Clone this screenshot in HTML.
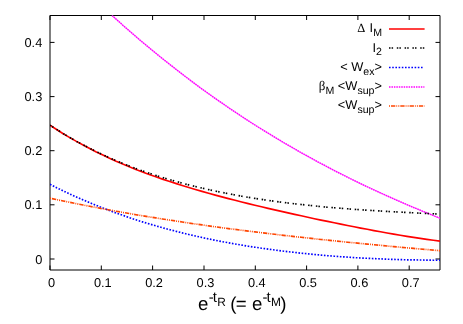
<!DOCTYPE html><html><head><meta charset="utf-8"><style>html,body{margin:0;padding:0;background:#fff}svg{display:block;will-change:transform;opacity:0.999}text{font-family:"Liberation Sans",sans-serif;fill:#000;text-rendering:geometricPrecision}</style></head><body>
<svg width="463" height="324" viewBox="0 0 463 324">
<rect width="463" height="324" fill="#fff"/>
<g stroke="#000" stroke-width="1" fill="none">
<path d="M50,15.5 H440 V270 H50 Z"/>
<path d="M50.0,270 v-4.5 M50.0,15.5 v4.5"/>
<path d="M101.3,270 v-4.5 M101.3,15.5 v4.5"/>
<path d="M152.6,270 v-4.5 M152.6,15.5 v4.5"/>
<path d="M204.0,270 v-4.5 M204.0,15.5 v4.5"/>
<path d="M255.3,270 v-4.5 M255.3,15.5 v4.5"/>
<path d="M306.6,270 v-4.5 M306.6,15.5 v4.5"/>
<path d="M357.9,270 v-4.5 M357.9,15.5 v4.5"/>
<path d="M409.2,270 v-4.5 M409.2,15.5 v4.5"/>
<path d="M50,259.0 h4.5 M440,259.0 h-4.5"/>
<path d="M50,204.8 h4.5 M440,204.8 h-4.5"/>
<path d="M50,150.7 h4.5 M440,150.7 h-4.5"/>
<path d="M50,96.6 h4.5 M440,96.6 h-4.5"/>
<path d="M50,42.4 h4.5 M440,42.4 h-4.5"/>
</g>
<text x="51.5" y="287.2" font-size="12.8" text-anchor="middle">0</text>
<text x="102.8" y="287.2" font-size="12.8" text-anchor="middle">0.1</text>
<text x="154.1" y="287.2" font-size="12.8" text-anchor="middle">0.2</text>
<text x="205.5" y="287.2" font-size="12.8" text-anchor="middle">0.3</text>
<text x="256.8" y="287.2" font-size="12.8" text-anchor="middle">0.4</text>
<text x="308.1" y="287.2" font-size="12.8" text-anchor="middle">0.5</text>
<text x="359.4" y="287.2" font-size="12.8" text-anchor="middle">0.6</text>
<text x="410.7" y="287.2" font-size="12.8" text-anchor="middle">0.7</text>
<text x="42.3" y="263.5" font-size="12.8" text-anchor="end">0</text>
<text x="42.3" y="209.3" font-size="12.8" text-anchor="end">0.1</text>
<text x="42.3" y="155.2" font-size="12.8" text-anchor="end">0.2</text>
<text x="42.3" y="101.1" font-size="12.8" text-anchor="end">0.3</text>
<text x="42.3" y="46.9" font-size="12.8" text-anchor="end">0.4</text>
<g fill="none" stroke-width="1.65" clip-path="url(#c)">
<clipPath id="c"><rect x="50" y="15.5" width="390" height="254.5"/></clipPath>
<path d="M112.0,15.4 L117.6,20.4 L123.1,25.4 L128.7,30.3 L134.2,35.1 L139.8,39.9 L145.4,44.6 L150.9,49.2 L156.5,53.8 L162.0,58.3 L167.6,62.7 L173.2,67.1 L178.7,71.4 L184.3,75.7 L189.8,79.9 L195.4,84.1 L200.9,88.2 L206.5,92.2 L212.1,96.2 L217.6,100.1 L223.2,103.9 L228.7,107.8 L234.3,111.5 L239.9,115.2 L245.4,118.9 L251.0,122.5 L256.5,126.0 L262.1,129.5 L267.7,132.9 L273.2,136.3 L278.8,139.7 L284.3,143.0 L289.9,146.2 L295.5,149.4 L301.0,152.6 L306.6,155.7 L312.1,158.7 L317.7,161.8 L323.3,164.7 L328.8,167.7 L334.4,170.6 L339.9,173.4 L345.5,176.2 L351.1,179.0 L356.6,181.7 L362.2,184.4 L367.7,187.0 L373.3,189.6 L378.8,192.2 L384.4,194.7 L390.0,197.2 L395.5,199.7 L401.1,202.1 L406.6,204.5 L412.2,206.9 L417.8,209.2 L423.3,211.5 L428.9,213.7 L434.4,216.0 L440.0,218.2" stroke="#ff9aff" stroke-width="1.35"/>
<path d="M112.0,15.4 L117.6,20.4 L123.1,25.4 L128.7,30.3 L134.2,35.1 L139.8,39.9 L145.4,44.6 L150.9,49.2 L156.5,53.8 L162.0,58.3 L167.6,62.7 L173.2,67.1 L178.7,71.4 L184.3,75.7 L189.8,79.9 L195.4,84.1 L200.9,88.2 L206.5,92.2 L212.1,96.2 L217.6,100.1 L223.2,103.9 L228.7,107.8 L234.3,111.5 L239.9,115.2 L245.4,118.9 L251.0,122.5 L256.5,126.0 L262.1,129.5 L267.7,132.9 L273.2,136.3 L278.8,139.7 L284.3,143.0 L289.9,146.2 L295.5,149.4 L301.0,152.6 L306.6,155.7 L312.1,158.7 L317.7,161.8 L323.3,164.7 L328.8,167.7 L334.4,170.6 L339.9,173.4 L345.5,176.2 L351.1,179.0 L356.6,181.7 L362.2,184.4 L367.7,187.0 L373.3,189.6 L378.8,192.2 L384.4,194.7 L390.0,197.2 L395.5,199.7 L401.1,202.1 L406.6,204.5 L412.2,206.9 L417.8,209.2 L423.3,211.5 L428.9,213.7 L434.4,216.0 L440.0,218.2" stroke="#ff00ff" stroke-width="1.35" stroke-dasharray="1.5 0.8"/>
<path d="M50.0,184.3 L56.6,187.7 L63.2,190.9 L69.8,194.0 L76.4,197.0 L83.1,199.9 L89.7,202.7 L96.3,205.4 L102.9,208.0 L109.5,210.6 L116.1,213.0 L122.7,215.3 L129.3,217.6 L135.9,219.8 L142.5,221.9 L149.2,223.9 L155.8,225.8 L162.4,227.7 L169.0,229.5 L175.6,231.2 L182.2,232.9 L188.8,234.5 L195.4,236.0 L202.0,237.5 L208.6,238.9 L215.3,240.3 L221.9,241.6 L228.5,242.8 L235.1,244.0 L241.7,245.1 L248.3,246.2 L254.9,247.2 L261.5,248.2 L268.1,249.1 L274.7,250.0 L281.4,250.9 L288.0,251.7 L294.6,252.4 L301.2,253.2 L307.8,253.8 L314.4,254.5 L321.0,255.1 L327.6,255.7 L334.2,256.2 L340.8,256.7 L347.5,257.1 L354.1,257.6 L360.7,258.0 L367.3,258.3 L373.9,258.6 L380.5,258.9 L387.1,259.2 L393.7,259.4 L400.3,259.6 L406.9,259.8 L413.6,259.9 L420.2,260.0 L426.8,260.1 L433.4,260.2 L440.0,260.2" stroke="#0000ff" stroke-dasharray="1.6 1.6"/>
<path d="M50.0,198.2 L56.6,199.6 L63.2,201.0 L69.8,202.3 L76.4,203.7 L83.1,205.0 L89.7,206.3 L96.3,207.5 L102.9,208.8 L109.5,210.0 L116.1,211.2 L122.7,212.4 L129.3,213.5 L135.9,214.7 L142.5,215.8 L149.2,216.9 L155.8,217.9 L162.4,219.0 L169.0,220.0 L175.6,221.0 L182.2,222.0 L188.8,223.0 L195.4,224.0 L202.0,224.9 L208.6,225.9 L215.3,226.8 L221.9,227.7 L228.5,228.6 L235.1,229.4 L241.7,230.3 L248.3,231.1 L254.9,231.9 L261.5,232.7 L268.1,233.5 L274.7,234.3 L281.4,235.1 L288.0,235.8 L294.6,236.6 L301.2,237.3 L307.8,238.0 L314.4,238.8 L321.0,239.5 L327.6,240.1 L334.2,240.8 L340.8,241.5 L347.5,242.2 L354.1,242.8 L360.7,243.5 L367.3,244.1 L373.9,244.7 L380.5,245.3 L387.1,246.0 L393.7,246.6 L400.3,247.2 L406.9,247.8 L413.6,248.4 L420.2,249.0 L426.8,249.5 L433.4,250.1 L440.0,250.7" stroke="#ff4500" stroke-dasharray="1 1 4.3 1 0.9 1.1" />
<path d="M50.0,125.2 L56.6,129.5 L63.2,133.7 L69.8,137.6 L76.4,141.4 L83.1,145.0 L89.7,148.5 L96.3,151.9 L102.9,155.1 L109.5,158.2 L116.1,161.2 L122.7,164.0 L129.3,166.8 L135.9,169.4 L142.5,171.9 L149.2,174.4 L155.8,176.8 L162.4,179.1 L169.0,181.3 L175.6,183.4 L182.2,185.5 L188.8,187.5 L195.4,189.5 L202.0,191.4 L208.6,193.3 L215.3,195.1 L221.9,196.9 L228.5,198.6 L235.1,200.3 L241.7,202.0 L248.3,203.6 L254.9,205.2 L261.5,206.8 L268.1,208.4 L274.7,209.9 L281.4,211.4 L288.0,212.9 L294.6,214.4 L301.2,215.8 L307.8,217.2 L314.4,218.7 L321.0,220.1 L327.6,221.4 L334.2,222.8 L340.8,224.1 L347.5,225.5 L354.1,226.8 L360.7,228.1 L367.3,229.3 L373.9,230.6 L380.5,231.8 L387.1,233.0 L393.7,234.1 L400.3,235.3 L406.9,236.4 L413.6,237.4 L420.2,238.4 L426.8,239.4 L433.4,240.3 L440.0,241.2" stroke="#ff0000"/>
<path d="M50.0,125.1 L56.6,129.4 L63.2,133.6 L69.8,137.5 L76.4,141.3 L83.1,144.9 L89.7,148.3 L96.3,151.6 L102.9,154.8 L109.5,157.8 L116.1,160.6 L122.7,163.4 L129.3,166.0 L135.9,168.5 L142.5,170.9 L149.2,173.2 L155.8,175.4 L162.4,177.5 L169.0,179.4 L175.6,181.3 L182.2,183.2 L188.8,184.9 L195.4,186.5 L202.0,188.1 L208.6,189.6 L215.3,191.1 L221.9,192.4 L228.5,193.7 L235.1,195.0 L241.7,196.2 L248.3,197.3 L254.9,198.4 L261.5,199.4 L268.1,200.4 L274.7,201.3 L281.4,202.2 L288.0,203.0 L294.6,203.8 L301.2,204.5 L307.8,205.2 L314.4,205.9 L321.0,206.6 L327.6,207.2 L334.2,207.7 L340.8,208.3 L347.5,208.8 L354.1,209.3 L360.7,209.8 L367.3,210.2 L373.9,210.6 L380.5,211.0 L387.1,211.4 L393.7,211.8 L400.3,212.1 L406.9,212.5 L413.6,212.8 L420.2,213.2 L426.8,213.5 L433.4,213.8 L440.0,214.2" stroke="#000" stroke-dasharray="1.5 1.1 1.5 3.7"/>
</g>
<g fill="none" stroke-width="1.7">
<path d="M389,29 H424.6" stroke="#ff0000"/>
<path d="M389,48 H424.6" stroke="#000" stroke-dasharray="1.5 1.1 1.5 3.7"/>
<path d="M389,67.5 H424" stroke="#0000ff" stroke-dasharray="1.6 1.6"/>
<path d="M389,87 H424.4" stroke="#ff00ff" stroke-dasharray="1.5 0.95"/>
<path d="M389,106 H424.6" stroke="#ff4500" stroke-dasharray="1 1 4.3 1 0.9 1.1" />
</g>
<text x="382" y="32.3" font-size="12.8" text-anchor="end"><tspan font-family="Liberation Serif, serif" font-size="12.5">Δ</tspan><tspan dx="0.8"> I</tspan><tspan font-size="10.6" dy="3.8">M</tspan></text>
<text x="382" y="51.5" font-size="12.8" text-anchor="end">I<tspan font-size="10.6" dy="3.8">2</tspan></text>
<text x="382" y="70.7" font-size="12.8" text-anchor="end">&lt; W<tspan font-size="10.6" dy="3.8">ex</tspan><tspan dy="-3.8">&gt;</tspan></text>
<text x="382" y="90" font-size="12.8" text-anchor="end"><tspan font-family="Liberation Serif, serif" font-size="13">β</tspan><tspan font-size="10.6" dy="3.8">M</tspan><tspan dy="-3.8"> &lt;W</tspan><tspan font-size="10.6" dy="3.8">sup</tspan><tspan dy="-3.8">&gt;</tspan></text>
<text x="382" y="109" font-size="12.8" text-anchor="end">&lt;W<tspan font-size="10.6" dy="3.8">sup</tspan><tspan dy="-3.8">&gt;</tspan></text>
<text x="198.0" y="310" font-size="18.67">e</text>
<text x="208.7" y="302" font-size="14.9">-</text>
<text x="212.7" y="302" font-size="14.9">t</text>
<text x="217.3" y="305.7" font-size="11.9">R</text>
<text x="230.2" y="310" font-size="18.67">(</text>
<text x="235.8" y="310" font-size="18.67">=</text>
<text x="251.9" y="310" font-size="18.67">e</text>
<text x="262.5" y="302" font-size="14.9">-</text>
<text x="266.5" y="302" font-size="14.9">t</text>
<text x="271.0" y="305.7" font-size="11.9">M</text>
<text x="280.3" y="310" font-size="18.67">)</text>
</svg></body></html>
